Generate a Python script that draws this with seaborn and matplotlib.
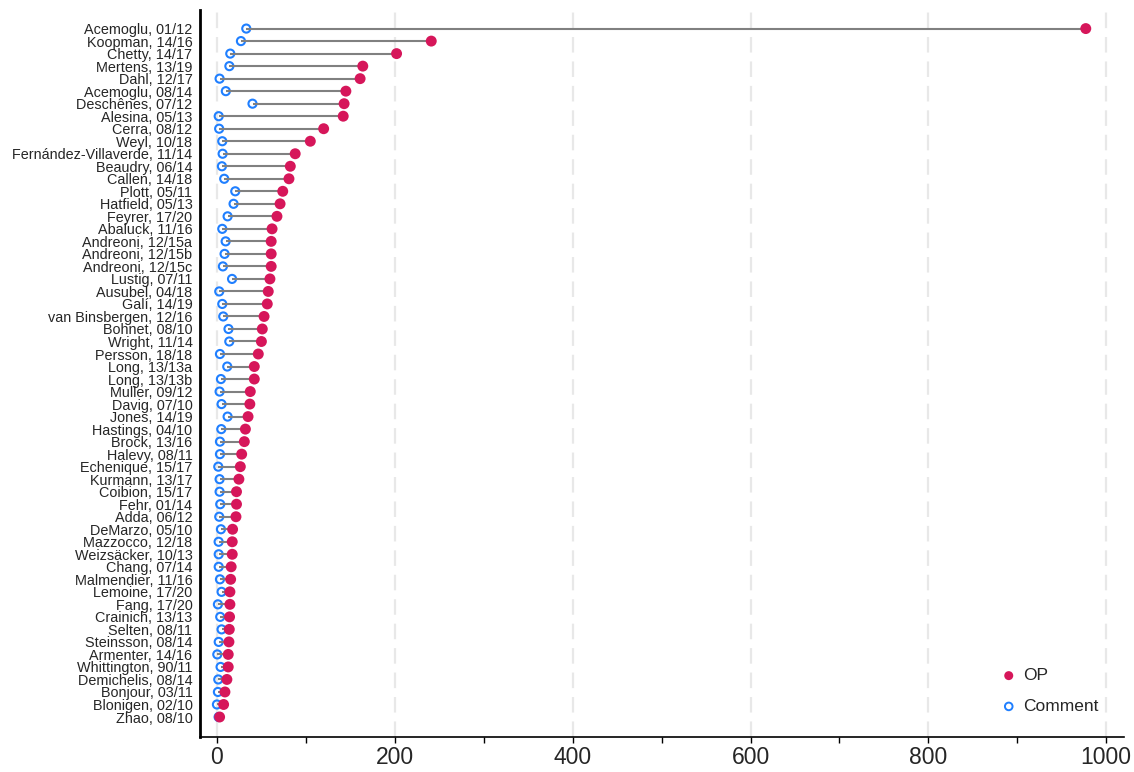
import pandas as pd
import matplotlib
matplotlib.use("Agg")
import matplotlib.pyplot as plt
import seaborn as sns
from matplotlib.ticker import MultipleLocator

# paper labels, top to bottom
papers = [
    "Acemoglu, 01/12", "Koopman, 14/16", "Chetty, 14/17", "Mertens, 13/19",
    "Dahl, 12/17", "Acemoglu, 08/14", "Deschênes, 07/12", "Alesina, 05/13",
    "Cerra, 08/12", "Weyl, 10/18", "Fernández-Villaverde, 11/14", "Beaudry, 06/14",
    "Callen, 14/18", "Plott, 05/11", "Hatfield, 05/13", "Feyrer, 17/20",
    "Abaluck, 11/16", "Andreoni, 12/15a", "Andreoni, 12/15b", "Andreoni, 12/15c",
    "Lustig, 07/11", "Ausubel, 04/18", "Galí, 14/19", "van Binsbergen, 12/16",
    "Bohnet, 08/10", "Wright, 11/14", "Persson, 18/18", "Long, 13/13a",
    "Long, 13/13b", "Muller, 09/12", "Davig, 07/10", "Jones, 14/19",
    "Hastings, 04/10", "Brock, 13/16", "Halevy, 08/11", "Echenique, 15/17",
    "Kurmann, 13/17", "Coibion, 15/17", "Fehr, 01/14", "Adda, 06/12",
    "DeMarzo, 05/10", "Mazzocco, 12/18", "Weizsäcker, 10/13", "Chang, 07/14",
    "Malmendier, 11/16", "Lemoine, 17/20", "Fang, 17/20", "Crainich, 13/13",
    "Selten, 08/11", "Steinsson, 08/14", "Armenter, 14/16", "Whittington, 90/11",
    "Demichelis, 08/14", "Bonjour, 03/11", "Blonigen, 02/10", "Zhao, 08/10",
]

op_values = [
    977, 241, 202, 164, 161, 145, 143, 142, 120, 105, 88, 82.5, 81, 74,
    71, 67.5, 62, 61, 61, 61, 59.6, 57.7, 56.6, 53, 51, 50, 46.5, 42,
    42, 37.5, 37, 35, 32, 30.8, 27.8, 26.3, 24.7, 22, 22, 21.4, 17.6, 17.2,
    17.2, 16, 15.4, 14.6, 14.6, 14.2, 13.9, 13.5, 12.7, 12.7, 11.2, 9, 7.5, 3,
]

comment_values = [
    33, 27, 15, 14, 3, 10, 40, 2, 2.5, 6, 6.4, 5.6, 8.2, 20.6,
    18.7, 12, 6, 9.8, 8.6, 6.7, 17, 2.6, 6, 7.1, 13, 13.9, 3.4, 11.6,
    4.5, 3, 5.2, 12, 4.9, 3.4, 3.4, 1.5, 3, 3, 3.7, 2.6, 4.5, 1.9,
    2, 2, 3.4, 5.2, 1.1, 3.7, 5.2, 2, 0.4, 4.1, 1.5, 1.1, 0, 1.9,
]

df = pd.DataFrame({"paper": papers, "OP": op_values, "Comment": comment_values})
df["pos"] = range(len(df))
long_df = df.melt(id_vars=["paper", "pos"], value_vars=["OP", "Comment"],
                  var_name="kind", value_name="value")

sns.set_style("white")
plt.rcParams["font.family"] = ["Liberation Sans", "DejaVu Sans"]

fig = plt.figure(figsize=(11.34, 7.72), dpi=100)
ax = fig.add_axes([0.1764, 0.0453, 0.8148, 0.942])

# dashed grid first so everything sits on it
for gx in range(0, 1001, 200):
    ax.axvline(gx, color="#e8e8e8", lw=1.6, ls=(0, (7, 4)), zorder=0)

# comment markers (hollow), then connecting line, then OP markers
com = long_df[long_df["kind"] == "Comment"]
opd = long_df[long_df["kind"] == "OP"]
sns.scatterplot(data=com, x="value", y="pos", ax=ax, marker="o", s=34,
                facecolors="none", edgecolor="#1f7fff", linewidth=1.5,
                zorder=2, legend=False)
ax.hlines(df["pos"], df["Comment"], df["OP"], color="#808080", lw=1.5, zorder=3)
sns.scatterplot(data=opd, x="value", y="pos", ax=ax, marker="o", s=62,
                color="#d6165a", edgecolor="none", zorder=4, legend=False)

# legend built by hand
ax.scatter([], [], s=42, color="#d6165a", edgecolor="none", label="OP")
ax.scatter([], [], s=30, facecolors="none", edgecolor="#1f7fff", lw=1.4,
           label="Comment")
ax.legend(loc="lower right", bbox_to_anchor=(0.985, 0.015), frameon=False,
          fontsize=12.5, handlelength=0.8, handletextpad=0.4,
          labelspacing=0.9, borderpad=0.2)

ax.set_xlim(-19, 1020)
ax.set_ylim(len(df) - 1 + 1.6, -1.5)
ax.set_yticks(df["pos"])
ax.set_yticklabels(df["paper"], fontsize=10.4)
ax.tick_params(axis="y", length=0, pad=5.5)

ax.xaxis.set_major_locator(MultipleLocator(200))
ax.xaxis.set_minor_locator(MultipleLocator(100))
ax.tick_params(axis="x", which="both", direction="out", length=4.5, width=1,
               color="black", bottom=True, labelsize=16.5, pad=2)
ax.set_xlabel("")
ax.set_ylabel("")

for side in ["top", "right"]:
    ax.spines[side].set_visible(False)
ax.spines["left"].set_linewidth(2)
ax.spines["left"].set_color("black")
ax.spines["bottom"].set_linewidth(1.2)
ax.spines["bottom"].set_color("black")

fig.savefig("out.png", dpi=100)
